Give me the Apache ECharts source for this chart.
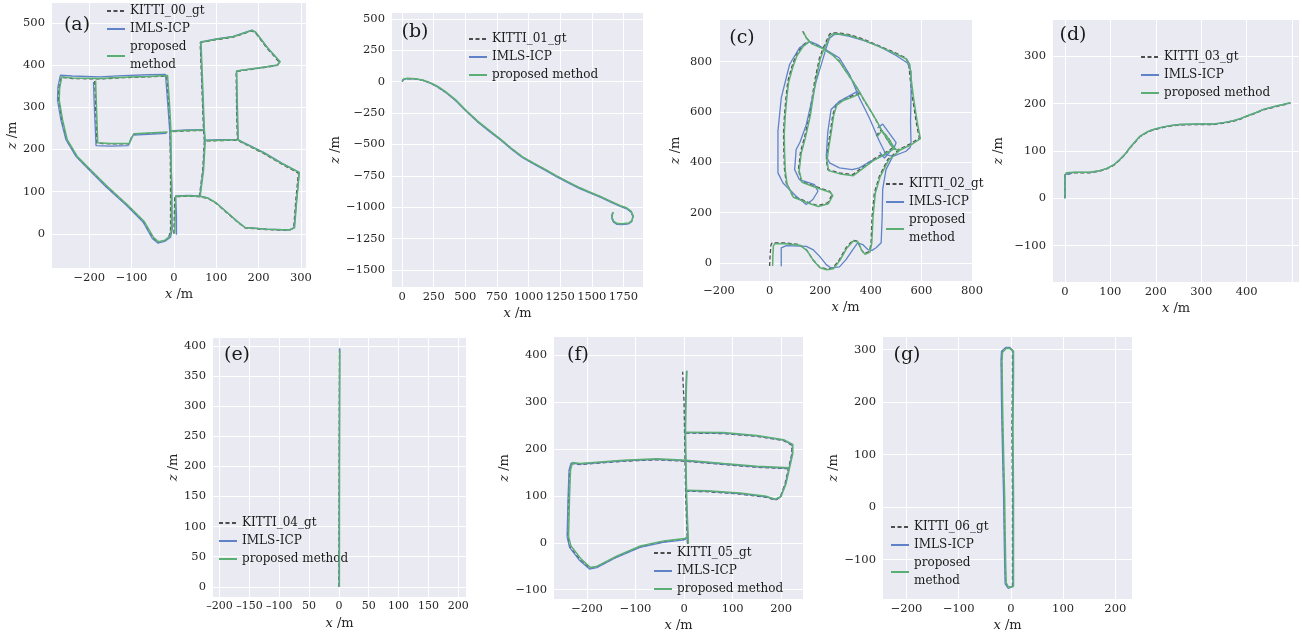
<!DOCTYPE html>
<html><head><meta charset="utf-8">
<script src="https://cdn.jsdelivr.net/npm/echarts@6/dist/echarts.min.js"></script>
<style>html,body{margin:0;padding:0;background:#fff}#c{width:1302px;height:633px}</style>
</head><body><div id="c"></div><script>
// ---------- tick values ----------
const a_xticks = [-200,-100,0,100,200,300];
const a_yticks = [0,100,200,300,400,500];
const b_xticks = [0,250,500,750,1000,1250,1500,1750];
const b_yticks = [-1500,-1250,-1000,-750,-500,-250,0,250,500];
const c_xticks = [-200,0,200,400,600,800];
const c_yticks = [0,200,400,600,800];
const d_xticks = [0,100,200,300,400,500];
const d_xlabels = [0,100,200,300,400];
const d_yticks = [-100,0,100,200,300];
const e_xticks = [-200,-150,-100,-50,0,50,100,150,200];
const e_xlabeltext = ['\u2013200','\u2013150','\u2013100','50','0','50','100','150','200'];
const e_yticks = [0,50,100,150,200,250,300,350,400];
const f_xticks = [-200,-100,0,100,200];
const f_yticks = [-100,0,100,200,300,400];
const g_xticks = [-200,-100,0,100,200];
const g_yticks = [-100,0,100,200,300];

// ---------- series names ----------
const gtNames = ['KITTI_00_gt','KITTI_01_gt','KITTI_02_gt','KITTI_03_gt','KITTI_04_gt','KITTI_05_gt','KITTI_06_gt'];
const imName = 'IMLS-ICP';
const prName = 'proposed method';

// ---------- (a) KITTI 00 ----------
const a_gt = [
 [[0,0],[1,45],[2,88],[35,89],[60,88],[80,84],[100,72],[125,50],[150,28],[168,14],[220,10],[272,8],[283,14],[288,80],[294,144],[255,165],[211,191],[165,214],[150,222],[110,221],[72,220],[70,245],[66,350],[62,453],[100,460],[140,466],[184,481],[192,477],[220,440],[249,407],[244,399],[200,392],[147,385],[148,300],[150,222]],
 [[72,220],[68,150],[60,88]],
 [[69,245],[30,244],[-9,242],[-12,300],[-17,374],[-60,372],[-120,370],[-175,367],[-240,368],[-266,371],[-272,345],[-273,317],[-265,270],[-254,223],[-230,183],[-199,152],[-159,112],[-112,69],[-72,29],[-50,-10],[-37,-21],[-22,-17],[-12,-8],[-8,10],[-8,120],[-9,242]],
 [[-187,362],[-185,300],[-182,215],[-150,213],[-106,213],[-100,228],[-95,236],[-60,238],[-17,240]]
];
const a_im = [
 [[6,-2],[6,45],[4,90],[35,91],[60,90],[80,85],[100,73],[125,51],[150,29],[168,15],[220,11],[272,9],[284,15],[290,80],[296,146],[256,167],[212,193],[165,216],[150,224],[110,223],[73,222],[71,247],[67,350],[63,455],[100,462],[140,468],[184,483],[193,478],[221,441],[250,408],[245,400],[200,393],[148,386],[149,300],[151,224]],
 [[73,222],[69,150],[61,90]],
 [[70,247],[30,246],[-10,244],[-14,300],[-20,378],[-60,377],[-120,375],[-175,372],[-240,374],[-268,376],[-274,348],[-275,317],[-267,270],[-255,223],[-231,183],[-200,151],[-160,111],[-113,68],[-73,28],[-51,-11],[-38,-22],[-22,-18],[-8,-8],[-4,10],[-5,120],[-10,244]],
 [[-190,360],[-188,300],[-184,209],[-150,208],[-108,209],[-102,225],[-96,234],[-60,236],[-18,238]]
];
const a_pr = [
 [[2,1],[3,45],[4,89],[35,90],[60,89],[80,85],[100,73],[125,51],[150,29],[168,15],[220,11],[272,9],[285,14],[290,80],[296,145],[256,166],[212,192],[165,215],[151,223],[110,222],[74,221],[72,245],[68,350],[64,454],[100,461],[140,467],[184,482],[193,478],[221,441],[251,408],[245,400],[200,393],[148,386],[150,300],[152,223]],
 [[74,221],[70,150],[62,89]],
 [[71,246],[30,245],[-7,243],[-10,300],[-15,375],[-60,373],[-120,371],[-175,368],[-240,369],[-265,372],[-270,345],[-271,317],[-263,270],[-252,223],[-228,183],[-197,152],[-157,112],[-110,69],[-70,29],[-48,-9],[-36,-19],[-21,-15],[-10,-6],[-6,10],[-6,120],[-7,243]],
 [[-185,363],[-183,300],[-180,216],[-150,214],[-105,214],[-99,229],[-94,237],[-60,239],[-15,241]]
];

// ---------- (b) KITTI 01 ----------
const b_gt = [[[0,0],[10,18],[40,25],[100,22],[160,12],[220,-10],[280,-40],[350,-88],[420,-145],[513,-239],[600,-320],[700,-400],[776,-459],[860,-530],[950,-600],[1039,-650],[1130,-700],[1220,-752],[1303,-796],[1400,-845],[1480,-880],[1566,-916],[1650,-955],[1720,-988],[1776,-1008],[1810,-1035],[1825,-1070],[1815,-1110],[1790,-1128],[1740,-1134],[1700,-1132],[1672,-1115],[1658,-1085],[1662,-1055],[1668,-1040]]];
const b_im = [[[0,0],[10,18],[40,25],[100,22],[160,12],[220,-10],[280,-42],[350,-90],[420,-148],[513,-242],[600,-323],[700,-404],[776,-463],[860,-534],[950,-604],[1039,-654],[1130,-704],[1220,-756],[1303,-800],[1400,-849],[1480,-884],[1566,-920],[1650,-960],[1720,-992],[1776,-1012],[1812,-1040],[1826,-1075],[1815,-1115],[1790,-1132],[1740,-1138],[1700,-1136],[1672,-1118],[1658,-1088],[1662,-1058],[1668,-1043]]];
const b_pr = [[[2,2],[12,20],[42,27],[102,24],[162,14],[222,-8],[282,-38],[352,-86],[422,-143],[515,-237],[602,-318],[702,-398],[778,-457],[862,-528],[952,-598],[1041,-648],[1132,-698],[1222,-750],[1305,-794],[1402,-843],[1482,-878],[1568,-914],[1652,-953],[1722,-986],[1778,-1006],[1812,-1033],[1827,-1068],[1817,-1108],[1792,-1126],[1742,-1132],[1702,-1130],[1674,-1113],[1660,-1083],[1664,-1053],[1670,-1038]]];

// ---------- (c) KITTI 02 ----------
const c_gt = [
 [[0,-12],[2,30],[5,70],[10,80],[60,80],[118,73],[145,53],[171,13],[197,-16],[224,-24],[250,-20],[276,13],[302,60],[329,90],[348,86],[362,53],[375,37],[395,46],[401,80],[405,186],[414,278],[434,345],[467,411],[513,452],[560,475],[592,497],[585,530],[579,563],[572,610],[565,656],[557,720],[550,789],[539,815],[480,843],[421,868],[370,890],[316,908],[270,915],[245,914],[237,910],[224,881],[210,850],[197,815],[178,722],[158,590],[138,500],[122,440],[114,371],[125,325],[178,305],[237,285],[247,272],[230,239],[191,228],[158,239],[92,265],[66,318],[59,371],[56,451],[55,520],[59,590],[65,660],[72,722],[88,780],[105,828],[130,865],[151,881]],
 [[131,921],[145,895],[165,875],[210,855],[250,828],[276,802],[300,765],[329,722],[350,688],[368,656],[390,620],[408,590],[425,560],[441,530],[465,490],[487,457],[513,452]],
 [[355,676],[320,662],[289,650],[263,630],[250,590],[240,520],[230,457],[224,411],[230,371],[276,358],[329,351],[355,371],[408,411],[454,437],[487,457]],
 [[421,505],[441,530],[470,495],[493,455]]
];
const c_im = [
 [[46,-13],[46,60],[66,69],[145,66],[171,53],[197,27],[224,-7],[243,-20],[276,-16],[302,13],[329,53],[348,80],[368,73],[388,53],[405,50],[421,60],[441,80],[445,186],[447,292],[460,371],[487,424],[539,444],[556,460],[559,477],[557,560],[559,660],[559,762],[545,795],[500,825],[434,861],[370,885],[316,901],[270,910],[256,908],[237,894],[224,855],[184,722],[145,550],[120,480],[105,451],[99,371],[118,331],[178,311],[191,285],[171,252],[145,232],[105,265],[53,318],[33,358],[33,451],[33,524],[46,656],[79,789],[118,855],[158,881]],
 [[158,881],[185,870],[210,855],[276,815],[316,749],[355,656],[394,577],[434,484],[460,431],[487,424]],
 [[349,683],[276,643],[243,610],[230,520],[224,424],[237,398],[276,378],[326,371],[355,378],[400,405],[460,431]],
 [[427,537],[447,552],[500,478],[495,465],[454,417],[435,440]]
];
const c_pr = [
 [[12,-12],[13,30],[15,68],[20,76],[62,76],[120,70],[147,50],[173,10],[199,-19],[226,-27],[252,-23],[278,10],[304,57],[331,87],[350,83],[364,50],[377,34],[397,43],[404,80],[409,186],[418,278],[437,343],[470,408],[516,449],[563,472],[596,494],[589,530],[583,563],[576,610],[569,656],[561,720],[554,789],[541,811],[482,839],[423,864],[372,886],[318,904],[272,911],[248,910],[240,906],[227,877],[213,846],[200,811],[181,718],[161,586],[141,496],[125,436],[117,367],[128,321],[180,301],[239,281],[250,268],[232,235],[193,224],[160,235],[94,261],[69,314],[62,367],[59,447],[58,516],[62,586],[68,656],[75,718],[91,776],[108,824],[133,861],[153,877]],
 [[134,917],[148,891],[167,871],[212,851],[252,824],[278,798],[302,761],[332,718],[353,684],[371,652],[393,616],[411,586],[428,556],[444,526],[468,486],[490,453],[516,448]],
 [[357,672],[322,658],[291,646],[265,626],[253,586],[243,516],[233,453],[227,407],[233,367],[278,354],[331,347],[357,367],[410,407],[456,433],[490,453]],
 [[424,501],[444,526],[473,491],[496,451]]
];

// ---------- (d) KITTI 03 ----------
const d_gt = [[[0,0],[0,25],[0,49],[2,53],[20,54],[55,54],[75,57],[92,62],[108,70],[121,81],[133,93],[143,106],[155,119],[165,130],[177,137],[187,142],[200,146],[217,150],[235,153],[253,155],[290,156],[327,156],[350,159],[371,163],[385,167],[400,173],[420,180],[437,187],[465,194],[496,201]]];
const d_im = [[[0,0],[0,25],[0,50],[2,54],[20,55],[55,55],[75,58],[92,63],[108,71],[121,82],[133,94],[143,107],[155,120],[165,131],[177,138],[187,143],[200,147],[217,151],[235,154],[253,156],[290,157],[327,157],[350,160],[371,164],[385,168],[400,174],[420,181],[437,188],[465,195],[496,202]]];
const d_pr = [[[1,0],[1,25],[1,49],[3,54],[20,55],[55,55],[75,58],[92,63],[108,71],[121,82],[133,94],[143,107],[155,120],[165,131],[177,138],[187,143],[200,147],[217,151],[235,154],[253,156],[290,157],[327,157],[350,160],[371,164],[385,168],[400,174],[420,181],[437,188],[465,195],[496,202]]];

// ---------- (e) KITTI 04 ----------
const e_gt = [[[0,0],[0.3,100],[0.5,200],[0.7,300],[1,395]]];
const e_im = [[[0.5,0],[0.6,100],[0.8,200],[1,300],[1.3,396]]];
const e_pr = [[[0.8,0],[0.9,100],[1,200],[1.2,300],[1.4,392]]];

// ---------- (f) KITTI 05 ----------
const f_gt = [
 [[7,-2],[5,50],[3,110],[2,172],[1,234],[0,300],[-2,340],[-3,365]],
 [[3,110],[47,109],[115,104],[170,97],[188,91],[198,97],[208,126],[215,158],[222,190],[222,208],[205,218],[150,227],[81,233],[2,234]],
 [[215,158],[150,161],[81,167],[2,174],[-56,177],[-125,174],[-214,167],[-232,169],[-236,155],[-238,98],[-240,13],[-235,-9],[-214,-37],[-194,-55],[-180,-52],[-139,-30],[-91,-9],[-43,2],[-1,7],[5,10]]
];
const f_im = [
 [[8,-2],[6,50],[4,110],[3,172],[2,234],[3,300],[4,340],[5,367]],
 [[4,111],[47,110],[115,105],[170,98],[188,92],[199,98],[209,126],[216,158],[223,190],[223,209],[205,219],[150,228],[81,234],[3,235]],
 [[216,159],[150,162],[81,168],[3,175],[-56,178],[-125,175],[-214,168],[-233,170],[-237,155],[-239,98],[-241,13],[-236,-10],[-215,-38],[-195,-56],[-180,-53],[-139,-31],[-91,-10],[-43,1],[0,6],[6,9]]
];
const f_pr = [
 [[9,-2],[7,50],[5,110],[4,172],[3,234],[4,300],[5,340],[6,367]],
 [[5,112],[47,111],[115,106],[170,99],[188,93],[200,99],[210,126],[217,158],[224,190],[224,210],[205,220],[150,229],[81,235],[4,236]],
 [[217,160],[150,163],[81,169],[4,176],[-56,179],[-125,176],[-214,169],[-230,171],[-234,155],[-236,98],[-238,13],[-233,-7],[-212,-35],[-193,-53],[-179,-50],[-138,-28],[-90,-7],[-42,4],[1,9],[7,12]]
];

// ---------- (g) KITTI 06 ----------
const g_gt = [[[3,-151],[3,-60],[3,20],[2,150],[3,250],[3,298],[-2,303],[-10,303],[-17,296],[-18,280],[-17,200],[-16,147],[-14,60],[-13,20],[-12,-50],[-11,-107],[-10,-145],[-5,-154],[3,-151]]];
const g_im = [[[4,-151],[4,-60],[4,20],[3,150],[4,250],[4,298],[-2,304],[-10,304],[-18,297],[-19,280],[-18,200],[-17,147],[-15,60],[-14,20],[-13,-50],[-12,-107],[-11,-146],[-5,-155],[4,-151]]];
const g_pr = [[[5,-151],[5,-60],[5,20],[4,150],[5,250],[5,297],[-2,302],[-9,302],[-16,295],[-17,280],[-16,200],[-15,147],[-13,60],[-12,20],[-11,-50],[-10,-107],[-9,-144],[-5,-152],[5,-151]]];

// ---------- layout ----------
const FONT = 'DejaVu Serif';
const minus = v => (v < 0 ? '\u2212' + (-v) : String(v));
const panels = [
 {lab:'(a)', lp:[77,25], grid:[52,3,254,265], x:[-288,312], y:[-81,547], xt:a_xticks, yt:a_yticks, ygap:32,
  gt:a_gt, im:a_im, pr:a_pr, leg:[106,2], wrap:true},
 {lab:'(b)', lp:[415,32], grid:[392,13,251,274], x:[-80,1905], y:[-1635,547], xt:b_xticks, yt:b_yticks, ygap:45,
  gt:b_gt, im:b_im, pr:b_pr, leg:[468,30], wrap:false},
 {lab:'(c)', lp:[742,38], grid:[719,20,253,261], x:[-200,800], y:[-72,966], xt:c_xticks, yt:c_yticks, ygap:37,
  gt:c_gt, im:c_im, pr:c_pr, leg:[885,175], wrap:true},
 {lab:'(d)', lp:[1073,35], grid:[1053,20,246,262], x:[-26,515], y:[-177,377], xt:d_xticks, xl:d_xlabels, yt:d_yticks, ygap:48,
  gt:d_gt, im:d_im, pr:d_pr, leg:[1140,48], wrap:false},
 {lab:'(e)', lp:[237,355], grid:[213,338,253,259], x:[-211,213], y:[-17,413], xt:e_xticks, yt:e_yticks, ygap:29,
  xf:(v)=>e_xlabeltext[e_xticks.indexOf(v)], xfs:11, gt:e_gt, im:e_im, pr:e_pr, leg:[218,514], wrap:false},
 {lab:'(f)', lp:[578,355], grid:[554,337,249,262], x:[-268,245], y:[-120,439], xt:f_xticks, yt:f_yticks, ygap:37,
  gt:f_gt, im:f_im, pr:f_pr, leg:[653,544], wrap:false},
 {lab:'(g)', lp:[907,355], grid:[883,337,249,262], x:[-245,232], y:[-175,324], xt:g_xticks, yt:g_yticks, ygap:42,
  gt:g_gt, im:g_im, pr:g_pr, leg:[890,518], wrap:true}
];

const GT_COLOR = '#4d4d4d', IM_COLOR = '#5f83c6', PR_COLOR = '#5caf74';
const labelStyle = {fontFamily: FONT, fontSize: 11.5, color: '#262626'};
const nameStyle = {fontFamily: FONT, fontSize: 13, color: '#262626', rich: {i: {fontFamily: FONT, fontSize: 13, fontStyle: 'italic', color: '#262626'}}};

const grids = [], xAxes = [], yAxes = [], series = [], legends = [], graphics = [];
panels.forEach((P, i) => {
  grids.push({left: P.grid[0], top: P.grid[1], width: P.grid[2], height: P.grid[3], show: true,
    backgroundColor: '#EAEAF2', borderWidth: 0, containLabel: false});
  xAxes.push({gridIndex: i, type: 'value', min: P.x[0], max: P.x[1],
    axisLine: {show: false}, axisTick: {show: false, customValues: P.xt},
    axisLabel: Object.assign({}, labelStyle, {customValues: P.xl || P.xt, formatter: P.xf || minus, margin: 4,
      showMinLabel: true, showMaxLabel: true, hideOverlap: false, fontSize: P.xfs || labelStyle.fontSize}),
    splitLine: {show: true, lineStyle: {color: '#ffffff', width: 1}},
    name: '{i|x} /m', nameLocation: 'middle', nameGap: 20, nameTextStyle: nameStyle});
  yAxes.push({gridIndex: i, type: 'value', min: P.y[0], max: P.y[1],
    axisLine: {show: false}, axisTick: {show: false, customValues: P.yt},
    axisLabel: Object.assign({customValues: P.yt, formatter: minus, margin: 7,
      showMinLabel: true, showMaxLabel: true}, labelStyle),
    splitLine: {show: true, lineStyle: {color: '#ffffff', width: 1}},
    name: '{i|z} /m', nameLocation: 'middle', nameGap: P.ygap, nameTextStyle: nameStyle});
  const common = {type: 'line', xAxisIndex: i, yAxisIndex: i, symbol: 'none', showSymbol: false,
    animation: false, silent: true, clip: true};
  P.gt.forEach(seg => series.push(Object.assign({}, common, {name: gtNames[i], data: seg,
    lineStyle: {color: GT_COLOR, width: 1.3, type: [4, 2.5]}, itemStyle: {color: GT_COLOR}, z: 2})));
  P.im.forEach(seg => series.push(Object.assign({}, common, {name: imName, data: seg,
    lineStyle: {color: IM_COLOR, width: 1.3}, itemStyle: {color: IM_COLOR}, z: 3})));
  P.pr.forEach(seg => series.push(Object.assign({}, common, {name: prName, data: seg,
    lineStyle: {color: PR_COLOR, width: 1.5}, itemStyle: {color: PR_COLOR}, z: 4})));
  legends.push({left: P.leg[0], top: P.leg[1], orient: 'vertical', padding: 0, itemGap: 0,
    itemWidth: 18, itemHeight: 10, selectedMode: false,
    itemStyle: {opacity: 0, borderWidth: 0},
    data: [gtNames[i], imName, prName],
    formatter: P.wrap ? (n => n === prName ? 'proposed\nmethod' : n) : (n => n),
    textStyle: {fontFamily: FONT, fontSize: 12, color: '#1a1a1a', lineHeight: 18}});
  graphics.push({type: 'text', x: P.lp[0], y: P.lp[1], z: 10,
    style: {text: P.lab, font: '19px "DejaVu Serif"', fill: '#1a1a1a', textAlign: 'center', textVerticalAlign: 'middle'}});
});

const chart = echarts.init(document.getElementById('c'), null, {renderer: 'canvas'});
chart.setOption({
  backgroundColor: '#ffffff',
  animation: false,
  grid: grids, xAxis: xAxes, yAxis: yAxes, series: series, legend: legends, graphic: graphics
});
</script></body></html>
